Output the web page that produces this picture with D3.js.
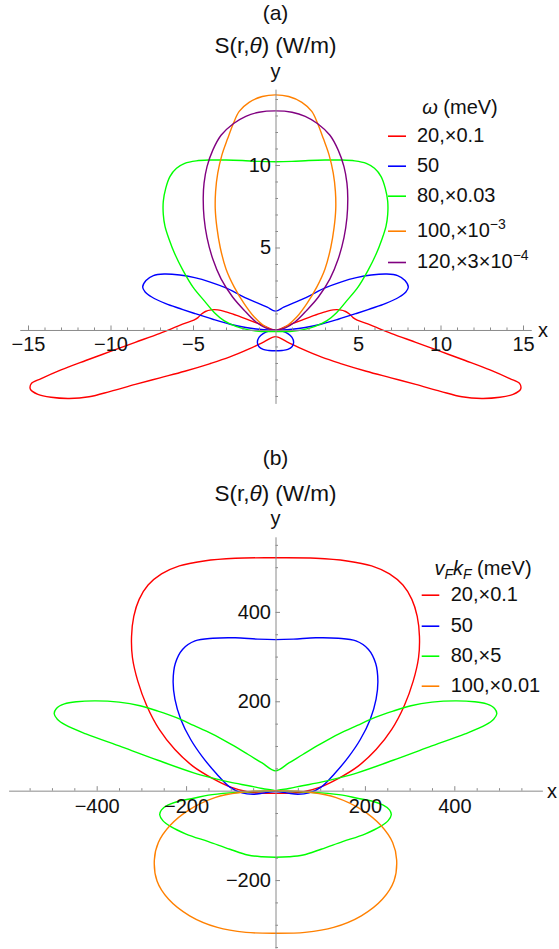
<!DOCTYPE html>
<html><head><meta charset="utf-8">
<script src="https://cdn.jsdelivr.net/npm/d3@7"></script>
<style>
body{margin:0;background:#fff}
text{font-family:"Liberation Sans",Arial,sans-serif;fill:#111}
</style>
</head><body>
<svg id="c" width="559" height="949"></svg>
<script>
// ---------------- Panel (a) data : S(r,θ) curves for ω (meV) ----------------
const seriesA = ["20", "50", "80", "100", "120"];
const labelsA = ["20,×0.1", "50", "80,×0.03", "100,×10", "120,×3×10"];
const supA = ["", "", "", "−3", "−4"];
const colorsA = ["#ff0000", "#0000ff", "#00ff00", "#ff8000", "#800080"];
const xTicksA = [-15, -10, -5, 5, 10, 15];
const yTicksA = [5, 10];

const redA = [[0,0],[0.8,0.3],[1.6,0.6],[2.4,0.9],[3.0,1.1],[3.5,1.22],[3.9,1.22],[4.25,1.12],[4.5,0.95],[4.7,0.75],[4.95,0.6],[5.5,0.4],[6,0.2],[7,-0.2],[8.5,-0.75],[10,-1.3],[11.5,-1.85],[13,-2.42],[14.2,-2.95],[14.8,-3.25],[14.85,-3.6],[14.4,-3.9],[13.6,-4.08],[12.5,-4.15],[11.3,-4.05],[10,-3.72],[8.5,-3.3],[7,-2.9],[5.5,-2.5],[4,-2.05],[2.8,-1.65],[1.6,-1.15],[0.7,-0.72],[0,-0.4],
  [-0.7,-0.72],[-1.6,-1.15],[-2.8,-1.65],[-4,-2.05],[-5.5,-2.5],[-7,-2.9],[-8.5,-3.3],[-10,-3.72],[-11.3,-4.05],[-12.5,-4.15],[-13.6,-4.08],[-14.4,-3.9],[-14.85,-3.6],[-14.8,-3.25],[-14.2,-2.95],[-13,-2.42],[-11.5,-1.85],[-10,-1.3],[-8.5,-0.75],[-7,-0.2],[-6,0.2],[-5.5,0.4],[-4.95,0.6],[-4.7,0.75],[-4.5,0.95],[-4.25,1.12],[-3.9,1.22],[-3.5,1.22],[-3.0,1.1],[-2.4,0.9],[-1.6,0.6],[-0.8,0.3]];
const blueA = [[0,1.14],[0.5,1.38],[1.0,1.6],[1.67,1.88],[2.4,2.25],[3.0,2.55],[4.0,2.92],[4.9,3.17],[5.8,3.33],[6.75,3.39],[7.4,3.3],[7.85,3.0],[8.05,2.6],[7.9,2.3],[7.5,2.0],[6.65,1.6],[5.8,1.3],[4.9,1.0],[3.8,0.65],[2.75,0.35],[1.8,0.15],[1.0,0.04],[0.4,0.0],[0,0],[0.4,-0.06],[0.75,-0.22],[1.0,-0.45],[1.1,-0.75],[1.0,-1.02],[0.75,-1.18],[0.4,-1.24],[0,-1.26],
  [-0.4,-1.24],[-0.75,-1.18],[-1.0,-1.02],[-1.1,-0.75],[-1.0,-0.45],[-0.75,-0.22],[-0.4,-0.06],[0,0],[-0.4,0],[-1.0,0.04],[-1.8,0.15],[-2.75,0.35],[-3.8,0.65],[-4.9,1.0],[-5.8,1.3],[-6.65,1.6],[-7.5,2.0],[-7.9,2.3],[-8.05,2.6],[-7.85,3.0],[-7.4,3.3],[-6.75,3.39],[-5.8,3.33],[-4.9,3.17],[-4.0,2.92],[-3.0,2.55],[-2.4,2.25],[-1.67,1.88],[-1.0,1.6],[-0.5,1.38]];
const greenA = [[0,10.2],[1,10.22],[2,10.27],[3,10.3],[4,10.3],[4.8,10.25],[5.5,10.1],[6.0,9.8],[6.4,9.3],[6.65,8.6],[6.8,7.8],[6.8,7.0],[6.7,6.3],[6.45,5.5],[6.1,4.6],[5.6,3.6],[5.0,2.6],[4.3,1.75],[3.7,1.05],[3.1,0.55],[2.4,0.22],[1.7,0.02],[1.0,-0.08],[0,-0.1],
  [-1.0,-0.08],[-1.7,0.02],[-2.4,0.22],[-3.1,0.55],[-3.7,1.05],[-4.3,1.75],[-5.0,2.6],[-5.6,3.6],[-6.1,4.6],[-6.45,5.5],[-6.7,6.3],[-6.8,7.0],[-6.8,7.8],[-6.65,8.6],[-6.4,9.3],[-6.0,9.8],[-5.5,10.1],[-4.8,10.25],[-4,10.3],[-3,10.3],[-2,10.27],[-1,10.22]];
const orangeA = [[0,14.25],[0.8,14.15],[1.6,13.8],[2.2,13.25],[2.56,12.5],[2.9,11.6],[3.25,10.6],[3.5,9.5],[3.63,8.4],[3.65,7.3],[3.55,6.2],[3.35,5.0],[3.0,3.7],[2.5,2.6],[1.9,1.6],[1.3,0.8],[0.7,0.25],[0.3,0.04],[0,0],
  [-0.3,0.04],[-0.7,0.25],[-1.3,0.8],[-1.9,1.6],[-2.5,2.6],[-3.0,3.7],[-3.35,5.0],[-3.55,6.2],[-3.65,7.3],[-3.63,8.4],[-3.5,9.5],[-3.25,10.6],[-2.9,11.6],[-2.56,12.5],[-2.2,13.25],[-1.6,13.8],[-0.8,14.15]];
const purpleA = [[0,13.28],[1,13.2],[1.8,12.95],[2.56,12.5],[3.3,11.8],[3.8,10.9],[4.15,9.9],[4.33,8.9],[4.38,8.0],[4.33,6.8],[4.15,5.6],[3.8,4.3],[3.3,3.1],[2.6,2.0],[1.9,1.2],[1.2,0.5],[0.6,0.13],[0,0],
  [-0.6,0.13],[-1.2,0.5],[-1.9,1.2],[-2.6,2.0],[-3.3,3.1],[-3.8,4.3],[-4.15,5.6],[-4.33,6.8],[-4.38,8.0],[-4.33,8.9],[-4.15,9.9],[-3.8,10.9],[-3.3,11.8],[-2.56,12.5],[-1.8,12.95],[-1,13.2]];
const curvesA = [redA, blueA, greenA, orangeA, purpleA];

// ---------------- Panel (b) data : S(r,θ) curves for vF kF (meV) ----------------
const seriesB = ["20", "50", "80", "100"];
const labelsB = ["20,×0.1", "50", "80,×5", "100,×0.01"];
const colorsB = ["#ff0000", "#0000ff", "#00ff00", "#ff8000"];
const xTicksB = [-400, -200, 200, 400];
const yTicksB = [-200, 200, 400];

const redB = [[0,521],[90,520],[160,514],[215,503],[255,485],[285,460],[305,428],[317,390],[322,345],[320,298],[308,245],[288,190],[260,137],[225,92],[185,55],[140,27],[100,8],[60,-3],[25,-6],[0,-6],
  [-25,-6],[-60,-3],[-100,8],[-140,27],[-185,55],[-225,92],[-260,137],[-288,190],[-308,245],[-320,298],[-322,345],[-317,390],[-305,428],[-285,460],[-255,485],[-215,503],[-160,514],[-90,520]];
const blueB = [[0,338],[40,339],[90,342],[140,341],[180,335],[208,316],[224,285],[229,245],[225,205],[212,160],[190,115],[163,75],[132,38],[102,8],[75,-5],[50,-8],[25,-5],[0,-2],
  [-25,-5],[-50,-8],[-75,-5],[-102,8],[-132,38],[-163,75],[-190,115],[-212,160],[-225,205],[-229,245],[-224,285],[-208,316],[-180,335],[-140,341],[-90,342],[-40,339]];
const greenB = [[0,44.4],[30,62],[62,81.5],[100,104],[142,127],[183,146],[223,164],[263,178],[303,190],[350,198],[402,201],[445,199],[472,194],[490,184],[495,172],[488,160],[470,147],[424,127],[344,98],[263,68],[183,40],[140,28],[102,19],[60,11],[30,5],[0,0],[50,-2],[102,-5],[150,-10],[183,-17],[215,-23],[240,-32],[255,-43],[259,-54],[252,-67],[235,-80],[200,-97],[150,-114],[102,-131],[62,-144],[30,-148],[0,-149],
  [-30,-148],[-62,-144],[-102,-131],[-150,-114],[-200,-97],[-235,-80],[-252,-67],[-259,-54],[-255,-43],[-240,-32],[-215,-23],[-183,-17],[-150,-10],[-102,-5],[-50,-2],[0,0],[-30,5],[-60,11],[-102,19],[-140,28],[-183,40],[-263,68],[-344,98],[-424,127],[-470,147],[-488,160],[-495,172],[-490,184],[-472,194],[-445,199],[-402,201],[-350,198],[-303,190],[-263,178],[-223,164],[-183,146],[-142,127],[-100,104],[-62,81.5],[-30,62]];
const orangeB = [[0,0],[40,-1],[80,-4],[134,-15],[195,-44],[236,-78],[262,-116],[271,-155],[265,-202],[239,-243],[192,-280],[130,-306],[66,-317],[0,-319],
  [-66,-317],[-130,-306],[-192,-280],[-239,-243],[-265,-202],[-271,-155],[-262,-116],[-236,-78],[-195,-44],[-134,-15],[-80,-4],[-40,-1]];
const curvesB = [redB, blueB, greenB, orangeB];

// ---------------- drawing ----------------
const svg = d3.select("#c");
svg.append("rect").attr("width", 559).attr("height", 949).attr("fill", "#fff");
const AX = "#8a8a8a";
const fmt = d => d < 0 ? "\u2212" + Math.abs(d) : String(d);

function minorList(lo, hi, step, majorStep) {
  const out = [];
  for (let v = lo; v <= hi + 1e-9; v += step) {
    const r = Math.round(v / step) * step;
    if (Math.abs(r % majorStep) > 1e-9 && r !== 0) out.push(r);
  }
  return out;
}

function panel(cfg) {
  const g = svg.append("g");
  const x = cfg.x, y = cfg.y;
  const x0 = x(0), y0 = y(0);
  const line = d3.line().x(d => x(d[0])).y(d => y(d[1])).curve(d3.curveCatmullRomClosed.alpha(0.5));
  cfg.curves.forEach((c, i) => {
    g.append("path").attr("d", line(c)).attr("fill", "none")
      .attr("stroke", cfg.colors[i]).attr("stroke-width", 1.4);
  });
  const xm = g.append("g").attr("transform", `translate(0,${y0})`)
    .call(d3.axisBottom(x).tickValues(cfg.xMinor).tickSizeInner(-2.5).tickSizeOuter(0).tickFormat(""));
  xm.select(".domain").remove();
  const ym = g.append("g").attr("transform", `translate(${x0},0)`)
    .call(d3.axisLeft(y).tickValues(cfg.yMinor).tickSizeInner(-2.5).tickSizeOuter(0).tickFormat(""));
  ym.select(".domain").remove();
  const xa = g.append("g").attr("transform", `translate(0,${y0})`)
    .call(d3.axisBottom(x).tickValues(cfg.xTicks).tickSizeInner(-4.5).tickSizeOuter(0).tickPadding(cfg.xPad).tickFormat(fmt));
  const ya = g.append("g").attr("transform", `translate(${x0},0)`)
    .call(d3.axisLeft(y).tickValues(cfg.yTicks).tickSizeInner(-4.5).tickSizeOuter(0).tickPadding(4.5).tickFormat(fmt));
  [xa, ya, xm, ym].forEach(a => {
    a.selectAll("path,line").attr("stroke", AX).attr("stroke-width", 1);
    a.selectAll("text").attr("font-size", 20).attr("font-family", '"Liberation Sans",Arial,sans-serif').attr("fill", "#111");
  });
  g.append("text").attr("x", cfg.xLab[0]).attr("y", cfg.xLab[1]).attr("font-size", 20).text("x");
  g.append("text").attr("x", x0).attr("y", cfg.yLab).attr("font-size", 20).attr("text-anchor", "middle").text("y");
  g.append("text").attr("x", x0).attr("y", cfg.t1).attr("font-size", 21).attr("text-anchor", "middle").text(cfg.tag);
  const t = g.append("text").attr("x", x0).attr("y", cfg.t2).attr("font-size", 22.5).attr("text-anchor", "middle");
  t.append("tspan").text("S(r,");
  t.append("tspan").attr("font-style", "italic").text("θ");
  t.append("tspan").text(") (W/m)");
  const L = cfg.legend;
  const h = g.append("text").attr("x", L.hx).attr("y", L.hy).attr("font-size", 20).attr("text-anchor", "middle");
  L.header(h);
  cfg.labels.forEach((lab, i) => {
    const yy = L.rows[i];
    g.append("line").attr("x1", L.sx[0]).attr("x2", L.sx[1]).attr("y1", yy - 5.5).attr("y2", yy - 5.5)
      .attr("stroke", cfg.colors[i]).attr("stroke-width", 1.6);
    const tx = g.append("text").attr("x", L.tx).attr("y", yy).attr("font-size", 20);
    tx.append("tspan").text(lab);
    if (cfg.sups && cfg.sups[i]) tx.append("tspan").attr("font-size", 14).attr("dy", -8).text(cfg.sups[i]);
  });
}

// panel (a): origin at (275.5,330), 16.5 px per unit
const xA = d3.scaleLinear().domain([-15.5, 15.5]).range([19.75, 531.25]);
const yA = d3.scaleLinear().domain([-4.45, 14.6]).range([403.4, 89.1]);
panel({
  x: xA, y: yA, curves: curvesA, colors: colorsA, labels: labelsA, sups: supA,
  xTicks: xTicksA, yTicks: yTicksA,
  xMinor: minorList(-15, 15, 1, 5), yMinor: minorList(-4, 14, 1, 5),
  xPad: 7, xLab: [538, 336.5], yLab: 78, t1: 19.5, t2: 52.5, tag: "(a)",
  legend: {
    hx: 460, hy: 114, tx: 417, sx: [388, 406], rows: [141.7, 171.7, 201.7, 236.7, 268],
    header: h => { h.append("tspan").attr("font-style", "italic").text("ω"); h.append("tspan").text(" (meV)"); }
  }
});

// panel (b): origin at (275.5,790.7), 0.447 px per unit
const xB = d3.scaleLinear().domain([-597, 597]).range([8.6, 542.4]);
const yB = d3.scaleLinear().domain([-352, 568]).range([948, 536.8]);
panel({
  x: xB, y: yB, curves: curvesB, colors: colorsB, labels: labelsB, sups: null,
  xTicks: xTicksB, yTicks: yTicksB,
  xMinor: minorList(-550, 550, 50, 200), yMinor: minorList(-350, 550, 50, 200),
  xPad: 8, xLab: [547, 797.5], yLab: 525, t1: 464.5, t2: 500.5, tag: "(b)",
  legend: {
    hx: 483, hy: 575, tx: 450.7, sx: [421.7, 439.3], rows: [600.7, 631.7, 661.7, 691.7],
    header: h => {
      h.append("tspan").attr("font-style", "italic").text("v");
      h.append("tspan").attr("font-style", "italic").attr("font-size", 14).attr("dy", 4).text("F");
      h.append("tspan").attr("font-style", "italic").attr("dy", -4).text("k");
      h.append("tspan").attr("font-style", "italic").attr("font-size", 14).attr("dy", 4).text("F");
      h.append("tspan").attr("dy", -4).text(" (meV)");
    }
  }
});
</script>
</body></html>
